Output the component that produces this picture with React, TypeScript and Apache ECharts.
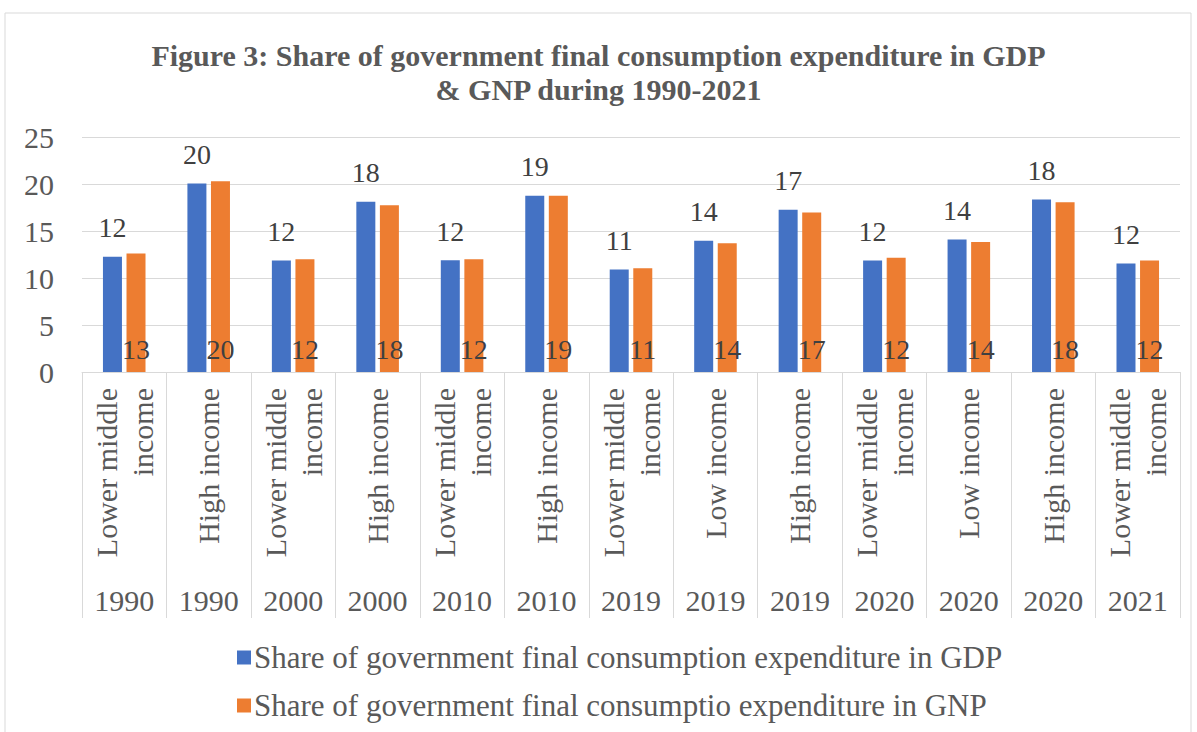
import React, { useEffect, useRef } from "react";
import * as echarts from "echarts";

const incomeGroups = [
  "Lower middle\nincome",
  "High income",
  "Lower middle\nincome",
  "High income",
  "Lower middle\nincome",
  "High income",
  "Lower middle\nincome",
  "Low income",
  "High income",
  "Lower middle\nincome",
  "Low income",
  "High income",
  "Lower middle\nincome",
];
const years = ["1990", "1990", "2000", "2000", "2010", "2010", "2019", "2019", "2019", "2020", "2020", "2020", "2021"];
const gdpShare = [12.25, 20.05, 11.85, 18.1, 11.9, 18.75, 10.9, 13.97, 17.25, 11.85, 14.1, 18.35, 11.55];
const gnpShare = [12.6, 20.3, 12.0, 17.75, 12.0, 18.75, 11.05, 13.7, 16.98, 12.15, 13.82, 18.05, 11.85];
const yTicks = { min: 0, max: 25, interval: 5 };
const seriesNames = [
  "Share of government final consumption expenditure in GDP",
  "Share of government final consumptio expenditure in GNP",
];
const titleText = "Figure 3: Share of government final consumption expenditure in GDP\n& GNP during 1990-2021";

const FONT = "Liberation Serif";

export default function App() {
  const ref = useRef<HTMLDivElement>(null);
  useEffect(() => {
    if (!ref.current) return;
    const chart = echarts.init(ref.current, undefined, { renderer: "svg" });
    chart.setOption({
      animation: false,
      backgroundColor: "#ffffff",
      textStyle: { fontFamily: FONT },
      graphic: [
        {
          type: "rect",
          shape: { x: 5, y: 13, width: 1186, height: 730 },
          style: { fill: "none", stroke: "#d9d9d9", lineWidth: 1 },
          silent: true,
          z: -1,
        },
      ],
      title: {
        text: titleText,
        left: "center",
        top: 38,
        padding: 0,
        textStyle: {
          fontFamily: FONT,
          fontWeight: "bold",
          fontSize: 30,
          lineHeight: 34,
          color: "#595959",
        },
      },
      legend: {
        orient: "vertical",
        left: 232,
        top: 637,
        itemWidth: 14,
        itemHeight: 14,
        itemGap: 17,
        icon: "rect",
        textStyle: { fontFamily: FONT, fontSize: 31, lineHeight: 30, color: "#595959", padding: [0, 0, 0, -2] },
        data: seriesNames,
      },
      grid: { left: 82, right: 17, top: 137, bottom: 360, containLabel: false },
      xAxis: [
        {
          type: "category",
          data: incomeGroups,
          position: "bottom",
          axisLine: { show: true, lineStyle: { color: "#d9d9d9", width: 1 } },
          axisTick: { show: true, interval: 0, length: 246, lineStyle: { color: "#d9d9d9" } },
          axisLabel: {
            interval: 0,
            rotate: 90,
            margin: 16,
            fontFamily: FONT,
            fontSize: 30,
            lineHeight: 36,
            color: "#595959",
          },
        },
        {
          type: "category",
          data: years,
          position: "bottom",
          axisLine: { show: false },
          axisTick: { show: false },
          axisLabel: {
            interval: 0,
            margin: 213,
            fontFamily: FONT,
            fontSize: 30,
            color: "#595959",
          },
        },
      ],
      yAxis: {
        type: "value",
        min: yTicks.min,
        max: yTicks.max,
        interval: yTicks.interval,
        axisLine: { show: false },
        axisTick: { show: false },
        splitLine: { lineStyle: { color: "#d9d9d9", width: 1 } },
        axisLabel: { margin: 28, fontFamily: FONT, fontSize: 30, color: "#595959" },
      },
      series: [
        {
          name: seriesNames[0],
          type: "bar",
          data: gdpShare,
          barWidth: 19,
          barGap: "24%",
          itemStyle: { color: "#4472C4" },
          label: {
            show: true,
            position: "top",
            distance: 15,
            fontFamily: FONT,
            fontSize: 28,
            color: "#404040",
            formatter: (p: any) => String(Math.round(p.value)),
          },
        },
        {
          name: seriesNames[1],
          type: "bar",
          data: gnpShare,
          barWidth: 19,
          barGap: "24%",
          itemStyle: { color: "#ED7D31" },
          label: {
            show: true,
            position: "insideBottom",
            distance: 9,
            fontFamily: FONT,
            fontSize: 28,
            color: "#404040",
            formatter: (p: any) => String(Math.round(p.value)),
          },
        },
      ],
    });
    return () => chart.dispose();
  }, []);
  return (
    <div
      ref={ref}
      style={{ position: "fixed", left: 0, top: 0, width: 1197, height: 732, background: "#fff" }}
    />
  );
}
